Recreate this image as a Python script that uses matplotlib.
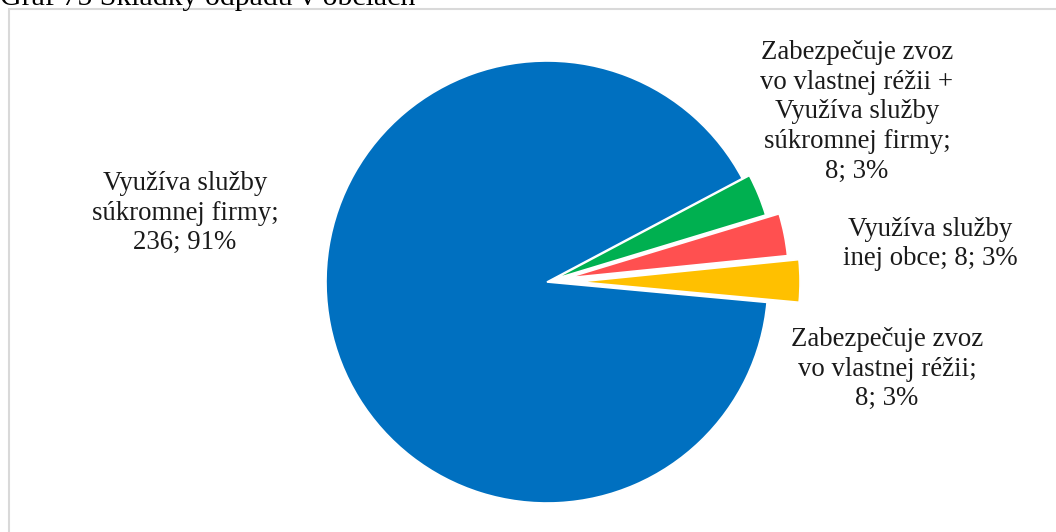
import matplotlib
matplotlib.use("Agg")
import matplotlib.pyplot as plt
from matplotlib.patches import Rectangle

# data
labels = [
    "Využíva služby\nsúkromnej firmy;\n236; 91%",
    "Zabezpečuje zvoz\nvo vlastnej réžii +\nVyužíva služby\nsúkromnej firmy;\n8; 3%",
    "Využíva služby\ninej obce; 8; 3%",
    "Zabezpečuje zvoz\nvo vlastnej réžii;\n8; 3%",
]
values = [236, 8, 8, 8]
colors = ["#0070C0", "#00B050", "#FF5050", "#FFC000"]
explode = [0.0, 0.035, 0.095, 0.145]
title = "Graf 75 Skládky odpadu v obciach"

W, H = 1056, 532
cx, cy, R = 547, 282, 221  # pie centre / radius in pixels

plt.rcParams["font.family"] = ["Liberation Serif", "DejaVu Serif"]
fig = plt.figure(figsize=(W / 100, H / 100), dpi=100)
ax = fig.add_axes([0, 0, 1, 1])

ax.pie(values, colors=colors, explode=explode, startangle=354.7,
       counterclock=False, radius=1.0,
       wedgeprops=dict(edgecolor="white", linewidth=1.2))

# pie() resets the limits, so set them afterwards
ax.set_xlim(-cx / R, (W - cx) / R)
ax.set_ylim(-(H - cy) / R, cy / R)
ax.set_aspect("equal")
ax.axis("off")

# chart area border
fig.patches.append(Rectangle((9 / W, -0.1), 1.2, 1 - 9 / H + 0.1,
                             transform=fig.transFigure, fill=False,
                             edgecolor="#d9d9d9", linewidth=1.5))

# data labels (pixel positions of label centres)
pos = [(185, 213), (857, 112), (930, 244), (887, 369)]
for txt, (x, y) in zip(labels, pos):
    fig.text(x / W, 1 - y / H, txt, ha="center", va="center",
             fontsize=19.3, color="#1a1a1a", linespacing=1.25)

# title, cut off at the top edge in the original
fig.text(0.0, 1 - 5 / H, title, ha="left", va="baseline", fontsize=21.5,
         color="#000000")

fig.savefig("out.png", dpi=100)
